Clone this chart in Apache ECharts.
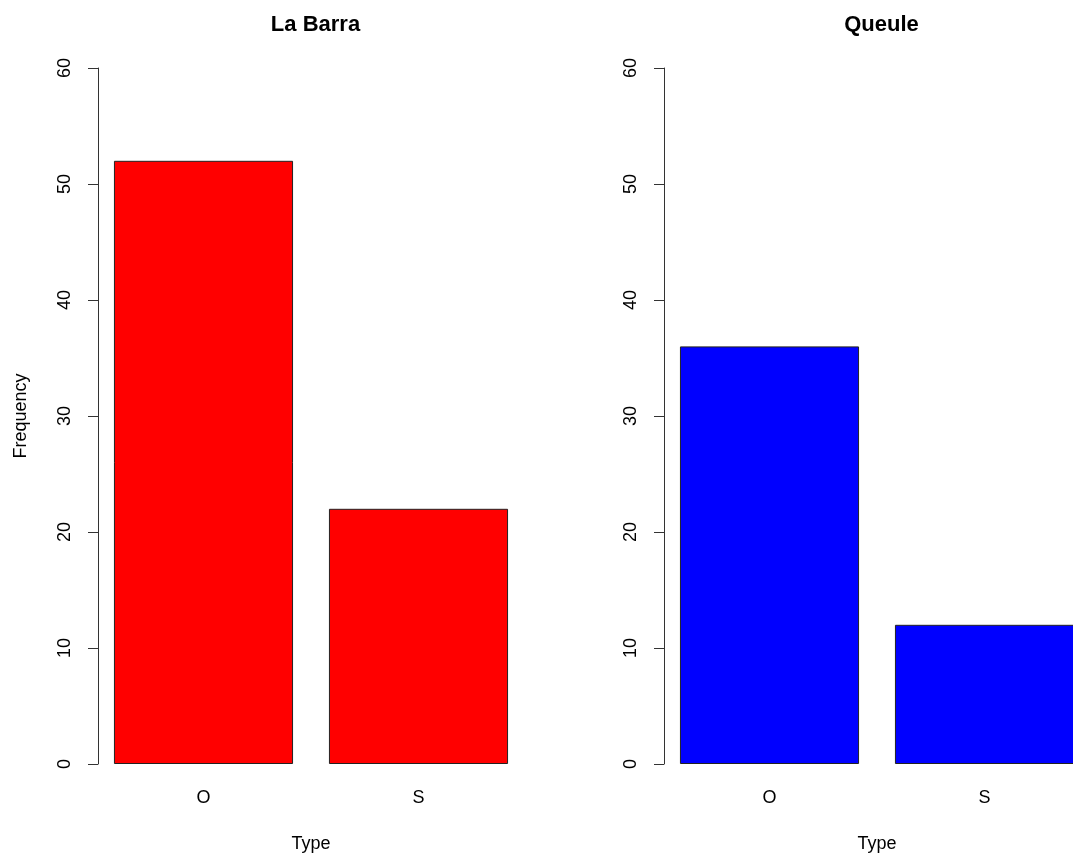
<!DOCTYPE html>
<html>
<head>
<meta charset="utf-8">
<style>
html,body{margin:0;padding:0;background:#fff;}
#chart{width:1073px;height:854px;}
</style>
<script src="https://cdn.jsdelivr.net/npm/echarts@6/dist/echarts.min.js"></script>
</head>
<body>
<div id="chart"></div>
<script>
const categories = ['O', 'S'];
const laBarraValues = [52, 22];
const queuleValues = [36, 12];
const panelTitles = ['La Barra', 'Queule'];
const yTicks = [0, 10, 20, 30, 40, 50, 60];

const FONT = '"Liberation Sans", Arial, sans-serif';
const chart = echarts.init(document.getElementById('chart'), null, {renderer: 'canvas'});

const grids = [
  {left: 96, top: 68, width: 430, height: 696, containLabel: false, outerBoundsMode: 'none'},
  {left: 662, top: 68, width: 430, height: 696, containLabel: false, outerBoundsMode: 'none'}
];

function yAxis(gi, withName) {
  return {
    type: 'value', gridIndex: gi, offset: -2,
    min: yTicks[0], max: yTicks[yTicks.length - 1], interval: 10,
    name: withName ? 'Frequency' : '',
    nameLocation: 'middle', nameRotate: 90, nameGap: 68,
    nameTextStyle: {fontFamily: FONT, fontSize: 18, color: '#000'},
    axisLine: {show: true, lineStyle: {color: '#333', width: 1}},
    axisTick: {show: true, length: 10, inside: false, lineStyle: {color: '#333', width: 1}},
    axisLabel: {rotate: 90, margin: 24, fontFamily: FONT, fontSize: 18, color: '#000'},
    splitLine: {show: false}
  };
}
function xAxis(gi) {
  return {
    type: 'category', gridIndex: gi, data: categories,
    name: 'Type', nameLocation: 'middle', nameGap: 71,
    nameTextStyle: {fontFamily: FONT, fontSize: 18, color: '#000'},
    axisLine: {show: false}, axisTick: {show: false},
    axisLabel: {margin: 25, fontFamily: FONT, fontSize: 18, color: '#000'},
    splitLine: {show: false}
  };
}

const option = {
  backgroundColor: '#fff',
  animation: false,
  title: panelTitles.map((t, i) => ({
    text: t,
    left: grids[i].left + 2 + 425 / 2,
    textAlign: 'center',
    top: 9,
    textStyle: {fontFamily: FONT, fontSize: 22, fontWeight: 'bold', color: '#000'}
  })),
  grid: grids,
  xAxis: [xAxis(0), xAxis(1)],
  yAxis: [yAxis(0, true), yAxis(1, false)],
  series: [
    {type: 'bar', xAxisIndex: 0, yAxisIndex: 0, data: laBarraValues, barCategoryGap: '16.7%',
     itemStyle: {color: '#FF0000', borderColor: '#222', borderWidth: 1}},
    {type: 'bar', xAxisIndex: 1, yAxisIndex: 1, data: queuleValues, barCategoryGap: '16.7%',
     itemStyle: {color: '#0000FF', borderColor: '#222', borderWidth: 1}}
  ]
};
chart.setOption(option);
</script>
</body>
</html>
